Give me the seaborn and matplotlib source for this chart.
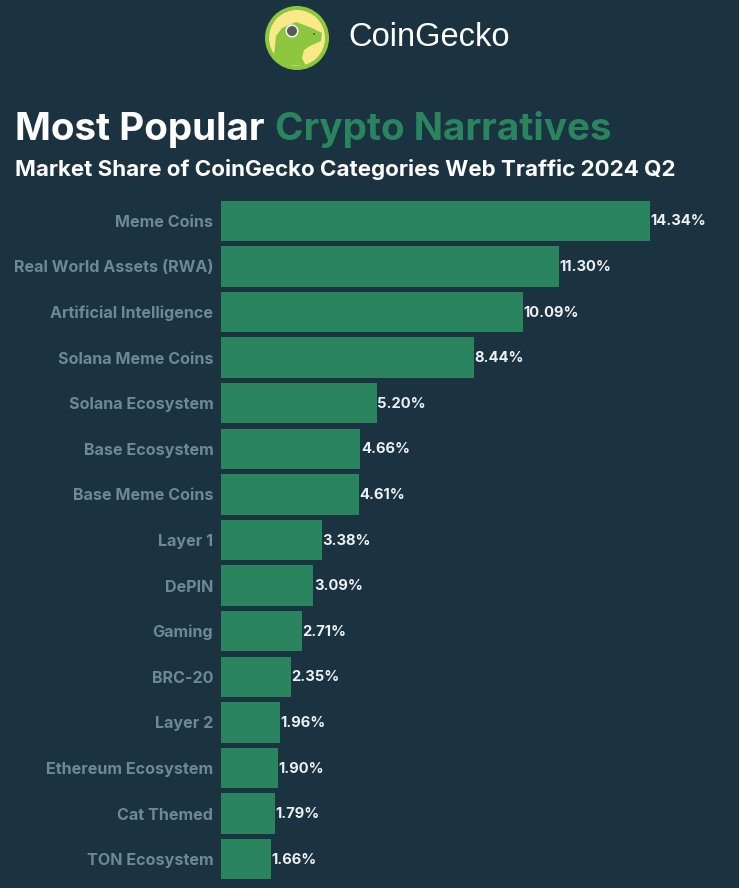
import matplotlib
matplotlib.use('Agg')
import matplotlib.pyplot as plt
import seaborn as sns
import pandas as pd
from matplotlib.patches import Circle, Polygon, Ellipse

categories = ['Meme Coins', 'Real World Assets (RWA)', 'Artificial Intelligence', 'Solana Meme Coins',
              'Solana Ecosystem', 'Base Ecosystem', 'Base Meme Coins', 'Layer 1', 'DePIN', 'Gaming',
              'BRC-20', 'Layer 2', 'Ethereum Ecosystem', 'Cat Themed', 'TON Ecosystem']
shares = [14.34, 11.30, 10.09, 8.44, 5.20, 4.66, 4.61, 3.38, 3.09, 2.71, 2.35, 1.96, 1.90, 1.79, 1.66]

BG = '#1b3341'
GREEN = '#2a855e'
LABEL = '#6c8994'
W, H = 739, 888

sns.set_theme(style='white')
plt.rcParams['font.family'] = ['Inter', 'DejaVu Sans']

df = pd.DataFrame({'category': categories, 'share': shares})

fig = plt.figure(figsize=(W / 100, H / 100), dpi=100, facecolor=BG)

# chart area in pixels: x 221-739, y 198-882
ax = fig.add_axes([221 / W, 1 - 882 / H, (W - 221) / W, (882 - 198) / H], facecolor=BG)
sns.barplot(data=df, x='share', y='category', color=GREEN, saturation=1, width=0.89, linewidth=0, ax=ax)
ax.set_xlim(0, (W - 221) / 29.92)
ax.set_ylim(14.5, -0.5)
ax.set_xlabel('')
ax.set_ylabel('')
ax.set_xticks([])
ax.tick_params(axis='y', length=0, pad=5.5, labelsize=11.6, labelcolor=LABEL)
for lab in ax.get_yticklabels():
    lab.set_fontweight('bold')
sns.despine(ax=ax, left=True, bottom=True)

for i, v in enumerate(shares):
    ax.annotate(f'{v:.2f}%', (v, i), xytext=(0.3, -0.5), textcoords='offset points',
                color='#eef1f2', fontsize=10.6, fontweight='bold', va='center', ha='left')

# overlay in pixel coordinates for title and logo
ov = fig.add_axes([0, 0, 1, 1], facecolor='none')
ov.set_xlim(0, W)
ov.set_ylim(H, 0)
ov.axis('off')

t1 = ov.text(15, 130, 'Most Popular', color='white', fontsize=27.8, fontweight='bold', va='center', ha='left')
fig.canvas.draw()
ext = t1.get_window_extent()
ov.text(ext.x1 + 10, 130, 'Crypto Narratives', color=GREEN, fontsize=27.8, fontweight='bold', va='center', ha='left')
ov.text(15, 169.5, 'Market Share of CoinGecko Categories Web Traffic 2024 Q2', color='white', fontsize=16.1,
        fontweight='bold', va='center', ha='left')
ov.text(348, 38, 'CoinGecko', color='white', fontsize=23.5, va='center', ha='left', family=['Liberation Sans', 'DejaVu Sans'])

# logo
ov.add_patch(Circle((297, 38), 32, fc='#8dc63f', ec='none'))
ov.add_patch(Circle((297, 38), 28, fc='#f9e988', ec='none'))
ov.add_patch(Polygon([(274, 56), (276, 36), (282, 28), (296, 22), (312, 28), (322, 33), (321, 41), (310, 46),
                      (304, 50), (302, 58), (306, 66), (285, 65)], fc='#8dc63f', ec='none'))
ov.add_patch(Circle((292, 31), 6.5, fc='white', ec='none'))
ov.add_patch(Circle((292, 31), 5, fc='#58595b', ec='none'))
ov.add_patch(Ellipse((314, 34), 2, 2, fc='#58595b', ec='none'))

fig.savefig('out.png', dpi=100, facecolor=BG)
